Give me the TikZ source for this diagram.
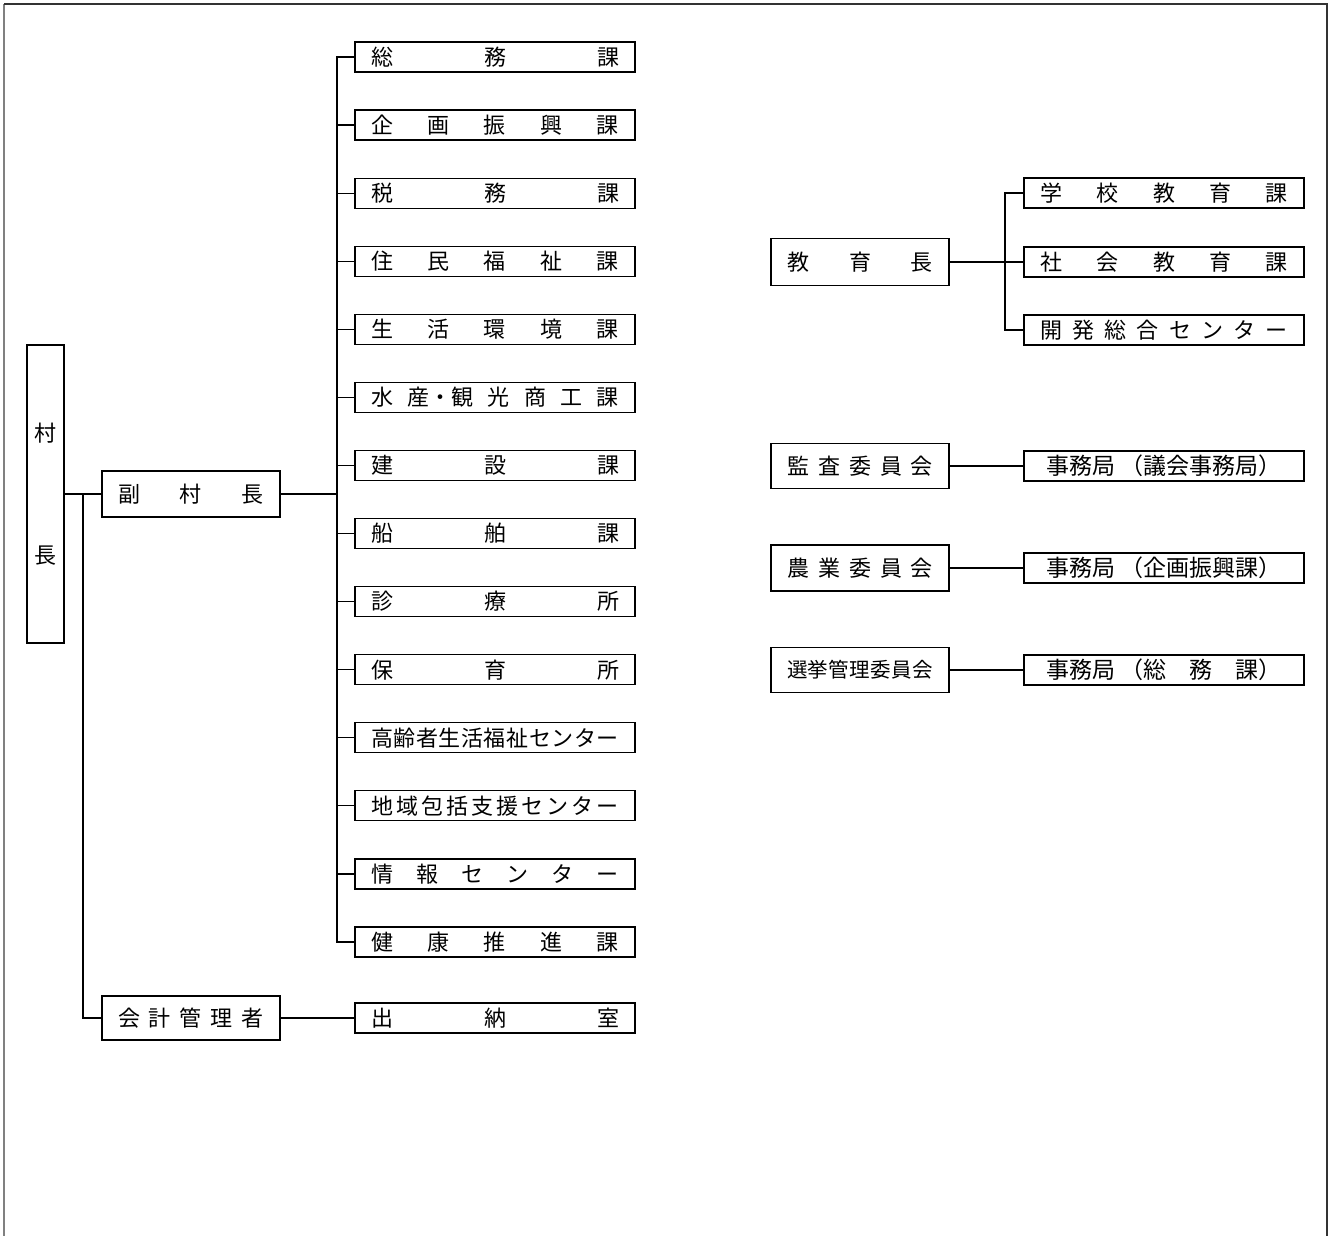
\documentclass[tikz,border=0pt]{standalone}
\usepackage{fontspec}
\newfontfamily\jp{Noto Sans CJK JP}
\usetikzlibrary{positioning}
\newcommand\headtext[1]{\hbox to 146pt{#1}}
\newcommand\depttext[1]{\hbox to 248pt{#1}}
\newcommand\jimutext[1]{\hbox to 236pt{\fontsize{23pt}{26pt}\selectfont #1}}

\begin{document}
\begin{tikzpicture}[x=1pt,y=-1pt,
head/.style={draw,line width=1.2pt,inner sep=0pt,outer sep=0pt,minimum width=178pt,minimum height=46pt,font=\jp\fontsize{22pt}{26pt}\selectfont},
dept/.style={draw,line width=1.2pt,inner sep=0pt,outer sep=0pt,minimum width=280pt,minimum height=30pt,font=\jp\fontsize{22pt}{26pt}\selectfont},
conn/.style={line width=1.2pt},
node distance=38.08pt]
\useasboundingbox (0,0) rectangle (1334,1236);
\draw[gray,line width=1.5pt](4,1236)--(4,4);
\draw[black!80,line width=1.5pt](4,4)--(1327,4)--(1327,1236);
% left side
\node[draw,line width=1.2pt,inner sep=0pt,outer sep=0pt,minimum width=37pt,minimum height=298pt,align=center,font=\jp\fontsize{22pt}{122pt}\selectfont](son) at (45.5,494){村\\長};
\node[head](fuku) at (191,494){\headtext{副\hfill 村\hfill 長}};
\node[head,minimum height=44pt](kaikei) at (191,1018){\headtext{会\hfill 計\hfill 管\hfill 理\hfill 者}};
\node[dept](d1) at (495,57){\depttext{総\hfill 務\hfill 課}};
\node[dept,below=of d1](d2){\depttext{企\hfill 画\hfill 振\hfill 興\hfill 課}};
\node[dept,below=of d2](d3){\depttext{税\hfill 務\hfill 課}};
\node[dept,below=of d3](d4){\depttext{住\hfill 民\hfill 福\hfill 祉\hfill 課}};
\node[dept,below=of d4](d5){\depttext{生\hfill 活\hfill 環\hfill 境\hfill 課}};
\node[dept,below=of d5](d6){\depttext{水\hfill 産・観\hfill 光\hfill 商\hfill 工\hfill 課}};
\node[dept,below=of d6](d7){\depttext{建\hfill 設\hfill 課}};
\node[dept,below=of d7](d8){\depttext{船\hfill 舶\hfill 課}};
\node[dept,below=of d8](d9){\depttext{診\hfill 療\hfill 所}};
\node[dept,below=of d9](d10){\depttext{保\hfill 育\hfill 所}};
\node[dept,below=of d10](d11){\depttext{高\hfill 齢\hfill 者\hfill 生\hfill 活\hfill 福\hfill 祉\hfill セ\hfill ン\hfill タ\hfill ー}};
\node[dept,below=of d11](d12){\depttext{地\hfill 域\hfill 包\hfill 括\hfill 支\hfill 援\hfill セ\hfill ン\hfill タ\hfill ー}};
\node[dept,below=of d12](d13){\depttext{情\hfill 報\hfill セ\hfill ン\hfill タ\hfill ー}};
\node[dept,below=of d13](d14){\depttext{健\hfill 康\hfill 推\hfill 進\hfill 課}};
\node[dept,right=75pt of kaikei](suito){\depttext{出\hfill 納\hfill 室}};
\coordinate(j) at (83,494);
\coordinate(tr) at (337,494);
\draw[conn](son)--(fuku);\draw[conn](j)|-(kaikei.west);\draw[conn](kaikei)--(suito);
\draw[conn](fuku)--(tr);\draw[conn](d1.west)-|(tr)|-(d14.west);
\draw[conn](tr|-d2)--(d2.west);\draw[conn](tr|-d3)--(d3.west);\draw[conn](tr|-d4)--(d4.west);
\draw[conn](tr|-d5)--(d5.west);\draw[conn](tr|-d6)--(d6.west);\draw[conn](tr|-d7)--(d7.west);
\draw[conn](tr|-d8)--(d8.west);\draw[conn](tr|-d9)--(d9.west);\draw[conn](tr|-d10)--(d10.west);
\draw[conn](tr|-d11)--(d11.west);\draw[conn](tr|-d12)--(d12.west);\draw[conn](tr|-d13)--(d13.west);
% right side
\node[head,minimum height=47pt](kyoiku) at (860,262){\headtext{教\hfill 育\hfill 長}};
\node[dept,right=75pt of kyoiku](shakai){\depttext{社\hfill 会\hfill 教\hfill 育\hfill 課}};
\node[dept,above=39pt of shakai](gakko){\depttext{学\hfill 校\hfill 教\hfill 育\hfill 課}};
\node[dept,below=38pt of shakai](kaihatsu){\depttext{開\hfill 発\hfill 総\hfill 合\hfill セ\hfill ン\hfill タ\hfill ー}};
\node[head,minimum height=45pt](kansa) at (860,466){\headtext{監\hfill 査\hfill 委\hfill 員\hfill 会}};
\node[head](nogyo) at (860,568){\headtext{農\hfill 業\hfill 委\hfill 員\hfill 会}};
\node[head,minimum height=45pt](senkyo) at (860,670){\headtext{\fontsize{20.5pt}{24pt}\selectfont 選\hfill 挙\hfill 管\hfill 理\hfill 委\hfill 員\hfill 会}};
\node[dept,right=75pt of kansa](jimu1){\jimutext{事務局\hspace{6pt}（議会事務局）\hfill}};
\node[dept,right=75pt of nogyo](jimu2){\jimutext{事務局\hspace{6pt}（企画振興課）\hfill}};
\node[dept,right=75pt of senkyo](jimu3){\jimutext{事務局\hspace{6pt}（総\hfill 務\hfill 課）}};
\coordinate(et) at (1005,262);
\draw[conn](kyoiku)--(shakai);\draw[conn](gakko.west)-|(et)|-(kaihatsu.west);
\draw[conn](kansa)--(jimu1);\draw[conn](nogyo)--(jimu2);\draw[conn](senkyo)--(jimu3);
\end{tikzpicture}
\end{document}
